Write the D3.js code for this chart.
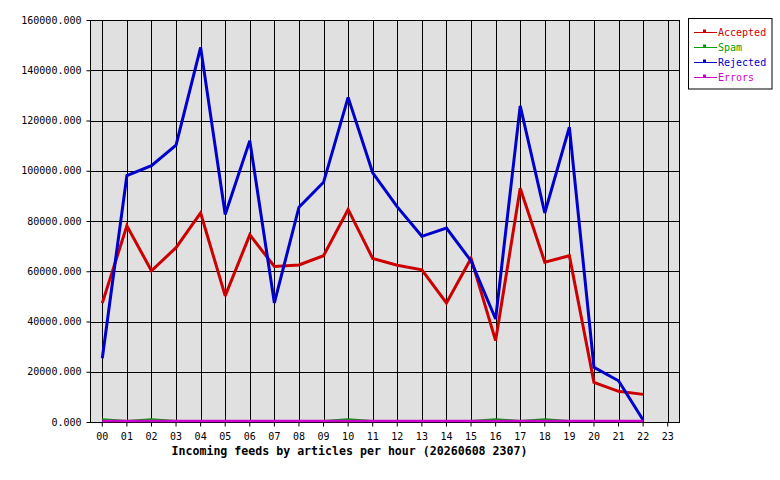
<!DOCTYPE html>
<html>
<head>
<meta charset="utf-8">
<script src="https://cdn.jsdelivr.net/npm/d3@7"></script>
<style>
  html, body { margin: 0; padding: 0; background: #ffffff; }
  svg { display: block; }
  text { font-family: "DejaVu Sans Mono", "Liberation Mono", monospace; }
</style>
</head>
<body>
<svg id="chart" width="780" height="480"></svg>
<script>
// ---- data ----
const hours = ["00","01","02","03","04","05","06","07","08","09","10","11",
               "12","13","14","15","16","17","18","19","20","21","22","23"];
const accepted = [46900, 77700, 59800, 69000, 82800, 49800, 74100, 61500, 62100, 65800, 84200, 64700,
                  62000, 60200, 47000, 64700, 32000, 92600, 63200, 65800, 15400, 11800, 10600];
const spam = [700, 0, 700, 0, 0, 0, 0, 0, 0, 0, 700, 0,
              0, 0, 0, 0, 700, 0, 700, 0, 0, 0, 0];
const rejected = [25000, 97700, 101600, 109800, 148700, 82200, 111600, 47000, 85100, 95000, 128800, 98800,
                  85200, 73500, 76800, 63700, 40600, 125400, 82800, 117000, 21400, 16000, 400];
const errors = [0,0,0,0,0,0,0,0,0,0,0,0, 0,0,0,0,0,0,0,0,0,0,0];
const yTicks = [0, 20000, 40000, 60000, 80000, 100000, 120000, 140000, 160000];
const title = "Incoming feeds by articles per hour (20260608 2307)";

const seriesNames = ["Accepted", "Spam", "Rejected", "Errors"];
const seriesColors = ["#cc0000", "#00a000", "#0000cc", "#cc00cc"];
const seriesData = [accepted, spam, rejected, errors];

// ---- layout ----
const pLeft = 90, pRight = 680, pTop = 20, pBottom = 422;
const svg = d3.select("#chart");

const x = d3.scaleBand().domain(hours).range([pLeft, pRight]).paddingInner(0).paddingOuter(0);
const xc = h => x(h) + x.bandwidth() / 2;
const y = d3.scaleLinear().domain([0, 160000]).range([pBottom, pTop]);

// plot background
svg.append("rect").attr("x", pLeft).attr("y", pTop)
  .attr("width", pRight - pLeft).attr("height", pBottom - pTop)
  .attr("fill", "#e0e0e0");

// horizontal grid
svg.append("g").selectAll("line").data(yTicks).join("line")
  .attr("x1", pLeft).attr("x2", pRight)
  .attr("y1", d => Math.round(y(d)) + 0.5).attr("y2", d => Math.round(y(d)) + 0.5)
  .attr("stroke", "#000").attr("stroke-width", 1);

// vertical grid
svg.append("g").selectAll("line").data(hours).join("line")
  .attr("x1", d => Math.round(xc(d)) + 0.5).attr("x2", d => Math.round(xc(d)) + 0.5)
  .attr("y1", pTop).attr("y2", pBottom)
  .attr("stroke", "#000").attr("stroke-width", 1);

// frame
svg.append("rect").attr("x", pLeft + 0.5).attr("y", pTop + 0.5)
  .attr("width", pRight - pLeft - 1).attr("height", pBottom - pTop)
  .attr("fill", "none").attr("stroke", "#000").attr("stroke-width", 1);

// y axis
const yAxis = d3.axisLeft(y).tickValues(yTicks).tickSize(4).tickPadding(5)
  .tickFormat(d => d3.format(".3f")(d));
const gy = svg.append("g").attr("transform", `translate(${pLeft + 0.5},0)`).call(yAxis);
gy.select(".domain").remove();
gy.selectAll(".tick line").attr("stroke", "#000");
gy.selectAll(".tick text").attr("font-size", 10).attr("fill", "#000")
  .attr("font-family", "DejaVu Sans Mono, monospace");

// x axis
const xAxis = d3.axisBottom(x).tickSize(4).tickPadding(6);
const gx = svg.append("g").attr("transform", `translate(0,${pBottom + 0.5})`).call(xAxis);
gx.select(".domain").remove();
gx.selectAll(".tick line").attr("stroke", "#000");
gx.selectAll(".tick text").attr("font-size", 10).attr("fill", "#000")
  .attr("font-family", "DejaVu Sans Mono, monospace");

// title
svg.append("text").attr("x", 349.5).attr("y", 455)
  .attr("text-anchor", "middle").attr("font-size", 11.6).attr("font-weight", "bold")
  .attr("fill", "#000").text(title);

// lines
const line = d3.line().x((d, i) => xc(hours[i])).y(d => y(d) - 1);
const drawOrder = [1, 0, 2, 3];
const widths = [3, 2, 3, 2.5];
drawOrder.forEach(k => {
  svg.append("path").datum(seriesData[k])
    .attr("d", line)
    .attr("fill", "none")
    .attr("stroke", seriesColors[k])
    .attr("stroke-width", widths[k])
    .attr("stroke-linejoin", "miter")
    .attr("stroke-miterlimit", 3);
});

// legend
const lg = svg.append("g");
lg.append("rect").attr("x", 688.5).attr("y", 18.5).attr("width", 83.5).attr("height", 70.5)
  .attr("fill", "#fff").attr("stroke", "#000").attr("stroke-width", 1);
seriesNames.forEach((name, i) => {
  const cy = 32.5 + i * 15;
  lg.append("line").attr("x1", 694).attr("x2", 717).attr("y1", cy).attr("y2", cy)
    .attr("stroke", seriesColors[i]).attr("stroke-width", 1);
  lg.append("rect").attr("x", 703.5).attr("y", cy - 2.5).attr("width", 2).attr("height", 2)
    .attr("fill", "none").attr("stroke", seriesColors[i]).attr("stroke-width", 1);
  lg.append("text").attr("x", 718).attr("y", cy + 3.5)
    .attr("font-size", 10).attr("fill", seriesColors[i]).text(name);
});
</script>
</body>
</html>
